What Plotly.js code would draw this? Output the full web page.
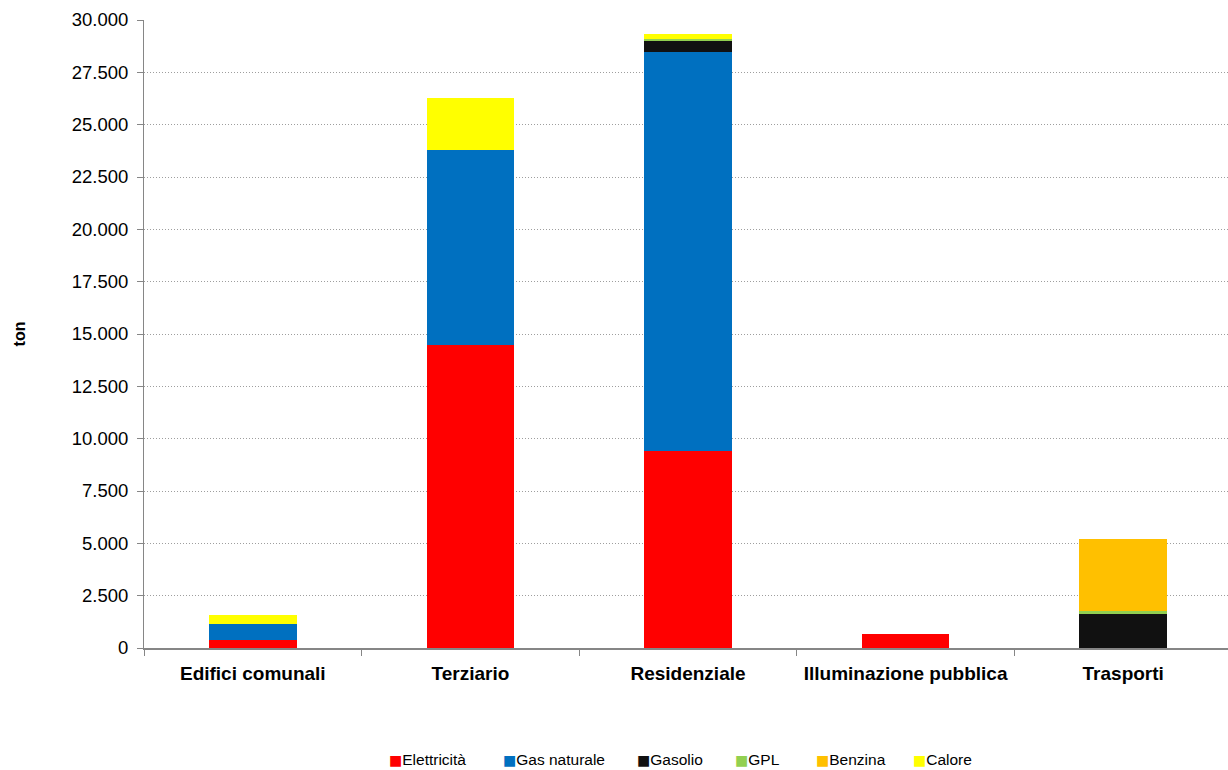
<!DOCTYPE html>
<html>
<head>
<meta charset="utf-8">
<script src="https://cdn.plot.ly/plotly-3.0.1.min.js"></script>
<style>
  html, body { margin: 0; padding: 0; background: #ffffff; overflow: hidden; }
  #chart { width: 1232px; height: 770px; }
</style>
</head>
<body>
<div id="chart"></div>
<script>
// Emissioni per settore e vettore energetico (ton)
const categories = ["Edifici comunali", "Terziario", "Residenziale", "Illuminazione pubblica", "Trasporti"];

const elettricita  = [385, 14480, 9410, 655, 0];
const gasNaturale  = [780, 9300, 19040, 0, 0];
const gasolio      = [0, 0, 550, 0, 1620];
const gpl          = [0, 0, 110, 0, 125];
const benzina      = [0, 0, 0, 0, 3445];
const calore       = [415, 2490, 220, 0, 0];

const seriesNames  = ["Elettricità", "Gas naturale", "Gasolio", "GPL", "Benzina", "Calore"];
const seriesValues = [elettricita, gasNaturale, gasolio, gpl, benzina, calore];
const seriesColors = ["#FF0000", "#0070C0", "#111111", "#92D050", "#FFC000", "#FFFF00"];

const yTicks = [0, 2500, 5000, 7500, 10000, 12500, 15000, 17500, 20000, 22500, 25000, 27500, 30000];

const FONT = "Liberation Sans, Arial, sans-serif";
const PLOT_LEFT = 144, PLOT_WIDTH = 1088, PLOT_TOP = 20, PLOT_HEIGHT = 628.5;

const traces = seriesNames.map((name, i) => ({
  type: "bar",
  name: name,
  x: categories,
  y: seriesValues[i],
  marker: { color: seriesColors[i], line: { width: 0 } },
  showlegend: false,
  hoverinfo: "skip"
}));

// Compact legend row under the chart: coloured square glued to each label
const legendLeftPx = [387, 501, 635, 733, 814, 911];
const legendRowPx = 760;
const legendAnnotations = seriesNames.map((name, i) => ({
  xref: "paper",
  yref: "paper",
  x: (legendLeftPx[i] - PLOT_LEFT) / PLOT_WIDTH,
  y: (PLOT_TOP + PLOT_HEIGHT - legendRowPx) / PLOT_HEIGHT,
  xanchor: "left",
  yanchor: "middle",
  showarrow: false,
  align: "left",
  text: '<span style="color:' + seriesColors[i] + ';font-family:DejaVu Sans;font-size:14px">■</span>' + name,
  font: { size: 15.5, family: FONT, color: "#000000" }
}));

const layout = {
  width: 1232,
  height: 770,
  barmode: "stack",
  bargap: 0.597,
  separators: ",.",
  paper_bgcolor: "#ffffff",
  plot_bgcolor: "#ffffff",
  font: { family: FONT, color: "#000000", size: 17 },
  margin: { l: PLOT_LEFT, r: 0, t: PLOT_TOP, b: 770 - PLOT_TOP - PLOT_HEIGHT, pad: 0, autoexpand: false },
  showlegend: false,
  annotations: legendAnnotations,
  xaxis: {
    type: "category",
    automargin: false,
    showline: true,
    linecolor: "#868686",
    linewidth: 2,
    ticks: "outside",
    tickson: "boundaries",
    ticklen: 6,
    tickcolor: "#868686",
    tickwidth: 1,
    showgrid: false,
    tickfont: { size: 19, family: FONT, weight: "bold" },
    ticklabelstandoff: 7,
    fixedrange: true
  },
  yaxis: {
    range: [0, 30000],
    automargin: false,
    tickvals: yTicks,
    tickformat: ",d",
    showline: true,
    linecolor: "#868686",
    linewidth: 1,
    ticks: "outside",
    ticklen: 6,
    tickcolor: "#868686",
    showgrid: true,
    gridcolor: "#9e9e9e",
    gridwidth: 1,
    griddash: "1px,2px",
    zeroline: false,
    tickfont: { size: 18.5, family: FONT },
    ticklabelstandoff: 5,
    title: {
      text: "ton",
      font: { size: 16, family: FONT, weight: "bold" },
      standoff: 42
    },
    fixedrange: true
  }
};

Plotly.newPlot("chart", traces, layout, { displayModeBar: false, staticPlot: true });
</script>
</body>
</html>
